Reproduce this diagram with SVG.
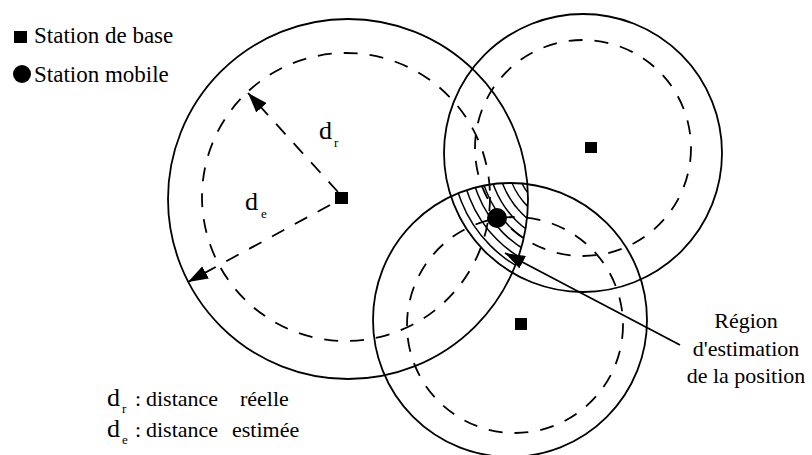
<svg xmlns="http://www.w3.org/2000/svg" width="812" height="455" viewBox="0 0 812 455">
<style>
text{font-family:'Liberation Serif','Times New Roman','DejaVu Serif',Times,serif;fill:#000}
.t{font-size:22px}
.l{font-size:23px}
.d{font-size:26px}
.s{font-size:13px}
.solid{fill:none;stroke:#000;stroke-width:1.8}
.dash{fill:none;stroke:#000;stroke-width:1.8;stroke-dasharray:14 12}
.hatch{fill:none;stroke:#000;stroke-width:1.5}
.bs{fill:#000}
</style>
<defs>
<marker id="ah" viewBox="0 0 20 14" refX="20" refY="7" markerWidth="20" markerHeight="14" markerUnits="userSpaceOnUse" orient="auto">
<path d="M0,0 L20,7 L0,14 Z" fill="#000" stroke="none"/>
</marker>
<clipPath id="c1"><circle cx="348" cy="199" r="180"/></clipPath>
<clipPath id="c2"><circle cx="583" cy="153" r="139"/></clipPath>
<clipPath id="c3"><circle cx="510" cy="320" r="137"/></clipPath>
</defs>

<g id="legend">
<rect x="14" y="31" width="13" height="12" class="bs"/>
<text x="34" y="43" class="l">Station de base</text>
<circle cx="22" cy="74" r="9" class="bs"/>
<text x="34" y="82" class="l">Station mobile</text>
</g>

<g id="cell1">
<circle cx="348" cy="199" r="180" class="solid"/>
<circle cx="346" cy="197" r="144" class="dash"/>
<rect x="335" y="192" width="13" height="12" class="bs"/>
</g>
<g id="cell2">
<circle cx="583" cy="153" r="139" class="solid"/>
<circle cx="583" cy="148" r="108" class="dash"/>
<rect x="585" y="142" width="12" height="11" class="bs"/>
</g>
<g id="cell3">
<circle cx="510" cy="320" r="137" class="solid"/>
<circle cx="515" cy="325" r="108" class="dash"/>
<rect x="515" y="318" width="12" height="12" class="bs"/>
</g>

<g id="region">
<g clip-path="url(#c1)"><g clip-path="url(#c2)"><g clip-path="url(#c3)">
<circle cx="583" cy="153" r="131" class="hatch"/>
<circle cx="583" cy="153" r="122" class="hatch"/>
<circle cx="583" cy="153" r="113" class="hatch"/>
<circle cx="583" cy="153" r="104" class="hatch"/>
<circle cx="583" cy="153" r="95" class="hatch"/>
<circle cx="583" cy="153" r="86" class="hatch"/>
<circle cx="583" cy="153" r="77" class="hatch"/>
<circle cx="583" cy="153" r="68" class="hatch"/>
</g></g></g>
<circle cx="497" cy="218" r="10" class="bs"/>
</g>

<g id="connectors">
<path d="M338,192 L248,93" class="dash" stroke-dasharray="14 10" marker-end="url(#ah)"/>
<path d="M330,205 L188,282" class="dash" stroke-dasharray="14 10" marker-end="url(#ah)"/>
<path d="M680,345 L505,253" class="solid" marker-end="url(#ah)"/>
</g>

<g id="labels">
<text x="319" y="139" class="d">d</text><text x="334" y="147" class="s">r</text>
<text x="245" y="210" class="d">d</text><text x="261" y="218" class="s">e</text>
<text x="746" y="328" class="t" text-anchor="middle">Région</text>
<text x="746" y="356" class="t" text-anchor="middle">d'estimation</text>
<text x="746" y="383" class="t" text-anchor="middle">de la position</text>
<text x="107" y="406" class="d">d</text><text x="122" y="413" class="s">r</text>
<text x="135" y="406" class="t">:</text><text x="146" y="406" class="t">distance</text><text x="240" y="406" class="t">réelle</text>
<text x="107" y="437" class="d">d</text><text x="122" y="444" class="s">e</text>
<text x="135" y="437" class="t">:</text><text x="146" y="437" class="t">distance</text><text x="232" y="437" class="t">estimée</text>
</g>
</svg>
